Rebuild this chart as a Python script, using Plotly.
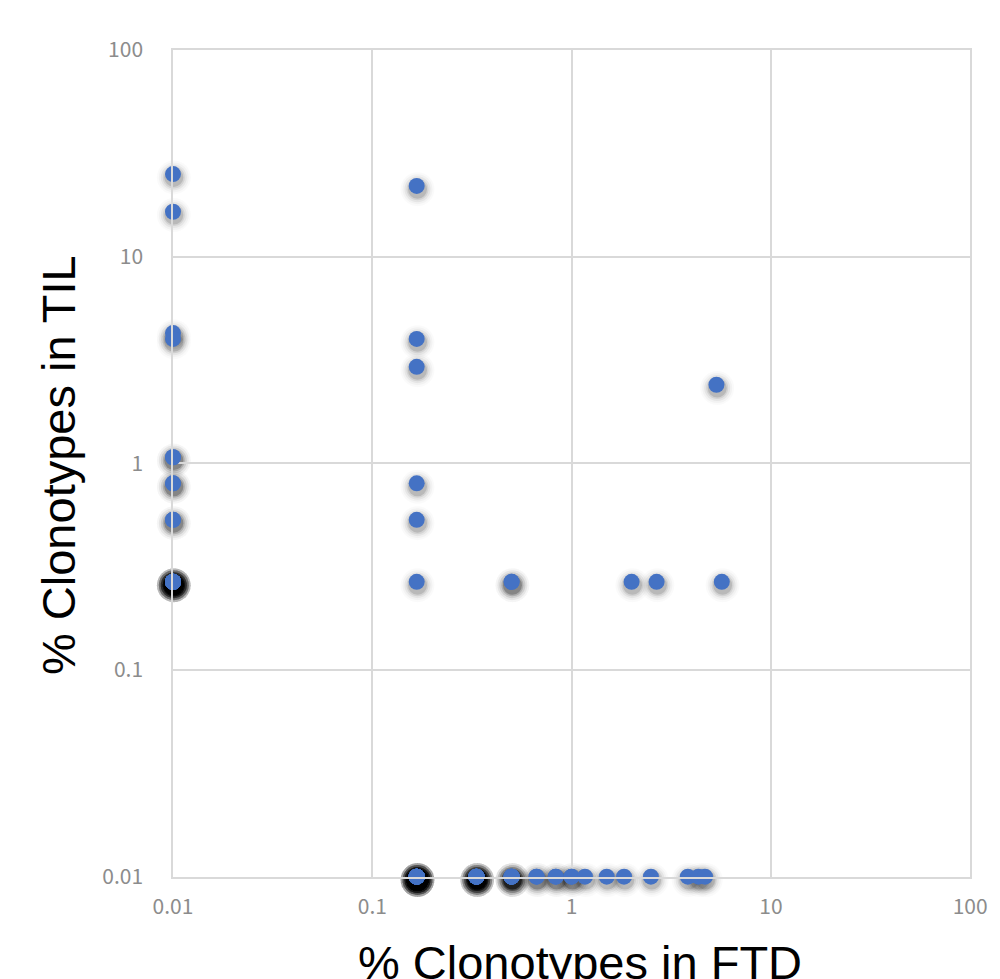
import plotly.graph_objects as go

# % Clonotypes in FTD (x) and % Clonotypes in TIL (y); repeated pairs are overlapping clonotypes
ftd = ([0.01] * 10 + [0.01] * 15
       + [0.167] * 6
       + [0.5, 0.5, 2.0, 2.67, 5.67]
       + [5.33]
       + [0.167] * 20 + [0.333] * 12 + [0.5] * 6 + [0.667] * 2 + [0.833] * 2 + [1.0] * 2
       + [1.167, 1.5, 1.833, 2.5, 3.83, 4.33, 4.67])
til = ([25.1, 16.5, 4.27, 4.0, 1.07, 1.07, 0.80, 0.80, 0.533, 0.533] + [0.267] * 15
       + [22.0, 4.0, 2.93, 0.80, 0.533, 0.267]
       + [0.267] * 5
       + [2.4]
       + [0.01] * 20 + [0.01] * 12 + [0.01] * 6 + [0.01] * 2 + [0.01] * 2 + [0.01] * 2
       + [0.01] * 7)

tick_vals = [0.01, 0.1, 1, 10, 100]
tick_text = ["0.01", "0.1", "1", "10", "100"]

x_title = "% Clonotypes in FTD"
y_title = "% Clonotypes in TIL"

fig = go.Figure()
# soft drop shadows on a hidden copy of the axes whose domain sits ~3px lower
for size, alpha in [(34, 0.02), (30, 0.03), (26, 0.05), (22, 0.08), (19, 0.12)]:
    fig.add_trace(go.Scatter(x=ftd, y=til, mode="markers", cliponaxis=False, hoverinfo="skip",
                             xaxis="x", yaxis="y",
                             marker=dict(size=size, color=f"rgba(0,0,0,{alpha})", line=dict(width=0))))
fig.add_trace(go.Scatter(x=ftd, y=til, mode="markers", cliponaxis=False, xaxis="x2", yaxis="y2",
                         marker=dict(size=16, color="#4472C4", line=dict(width=0))))

grid = "#d9d9d9"
tickfont = dict(family="Noto Sans CJK JP", size=21, color="#8c8c8c")
title_font = dict(family="Liberation Sans", size=47, color="black")
fig.update_layout(
    width=992, height=971,
    margin=dict(l=165, r=29, t=42, b=99),
    paper_bgcolor="white", plot_bgcolor="rgba(0,0,0,0)",
    showlegend=False,
    xaxis=dict(type="log", range=[-2, 2], domain=[0.001, 1], anchor="y",
               visible=False, showgrid=False, zeroline=False),
    yaxis=dict(type="log", range=[-2, 2], domain=[0, 0.996], anchor="x",
               visible=False, showgrid=False, zeroline=False),
    xaxis2=dict(type="log", range=[-2, 2], tickvals=tick_vals, ticktext=tick_text,
                domain=[0, 0.999], anchor="y2",
                showgrid=True, gridcolor=grid, gridwidth=1.5,
                showline=True, linecolor=grid, linewidth=1.5, mirror=True,
                zeroline=False, ticks="", tickfont=tickfont, ticklabelstandoff=10),
    yaxis2=dict(type="log", range=[-2, 2], tickvals=tick_vals, ticktext=tick_text,
                domain=[0.004, 1], anchor="x2",
                showgrid=True, gridcolor=grid, gridwidth=1.5,
                showline=True, linecolor=grid, linewidth=1.5, mirror=True,
                zeroline=False, ticks="", tickfont=tickfont, ticklabelstandoff=24),
    annotations=[
        dict(text=x_title, font=title_font, xref="paper", yref="paper", x=0.51, y=0,
             xanchor="center", yanchor="middle", yshift=-82, showarrow=False),
        dict(text=y_title, font=title_font, xref="paper", yref="paper", x=0, y=0.5,
             xanchor="center", yanchor="middle", xshift=-115, textangle=-90, showarrow=False),
    ],
)
fig.write_html("out.html")
